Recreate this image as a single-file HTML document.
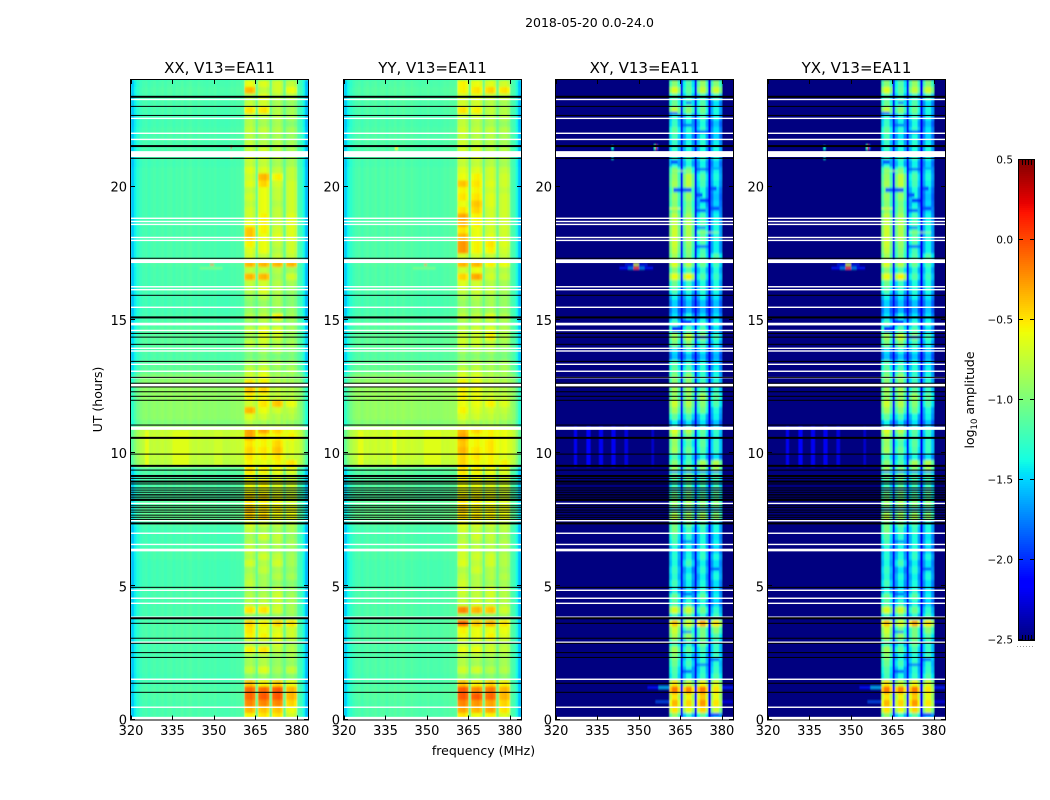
<!DOCTYPE html>
<html>
<head>
<meta charset="utf-8">
<title>2018-05-20 0.0-24.0</title>
<style>
html,body{margin:0;padding:0;background:#fff}
svg{display:block}
text{font-family:"DejaVu Sans","Liberation Sans",sans-serif;fill:#000}
</style>
</head>
<body>
<svg id="chart" xmlns="http://www.w3.org/2000/svg" width="1050" height="800" viewBox="0 0 1050 800">
<defs>
<filter id="soften" x="-2%" y="-2%" width="104%" height="104%"><feGaussianBlur stdDeviation="0.45 1.1"/></filter>
</defs>
<rect x="0" y="0" width="1050" height="800" fill="#fff"/>
<text x="589.5" y="27" font-size="12.5" text-anchor="middle">2018-05-20 0.0-24.0</text>
<text x="483.5" y="755" font-size="12.5" text-anchor="middle">frequency (MHz)</text>
<text transform="translate(102,399.5) rotate(-90)" font-size="12.5" text-anchor="middle">UT (hours)</text>
<text transform="translate(974,400) rotate(-90)" font-size="12.5" text-anchor="middle">log<tspan font-size="8.5" dy="3">10</tspan><tspan dy="-3"> amplitude</tspan></text>
</svg>
<script>
const freqStart = [320];
const freqTicks = [320, 335, 350, 365, 380];
const hourTicks = [0, 5, 10, 15, 20];
const colorbarTicks = [0.5, 0.0, -0.5, -1.0, -1.5, -2.0, -2.5];
const colorRange = [-2.5, 0.5];
const hourRange = [0, 24];
const freqRange = [320, 384];
const rowHours = [0.25];

/* first channel (MHz) of each of the four sub-bands */
const bandStarts = [361, 366, 371, 376];
const bandOffsetsParallel = [-0.04, 0.0, 0.02, -0.06];
const bandOffsetsCross = [-0.14, 0.1, 0.1, -0.2];

/* per-channel offset, 320..383 MHz, relative to the row background */
const parallelProfile = [-0.32,-0.18,-0.08,-0.02,0.02,0.04,0.0,0.03,0.05,0.02,0.04,0.06,0.02,0.05,0.06,0.02,0.05,0.04,0.07,0.03,0.05,0.07,0.04,0.03,0.06,0.04,0.03,0.02,0.04,0.03,0.05,0.02,0.03,0.03,0.02,0.03,0.05,0.04,0.06,0.05,0.08,0.0,0.0,0.0,0.0,0.16,0.0,0.0,0.0,0.0,0.16,0.0,0.0,0.0,0.0,0.16,0.0,0.0,0.0,0.0,0.06,0.0,-0.15,-0.36];
const crossProfile = [0,0,0,0,0,0,0,0,0,0,0,0,0,0,0,0,0,0,0,0,0,0,0,0,0,0,0,0,0,0,0,0,0,0,0,0,0,0,0,0,0,0,0,0,0,0.3,0,0,0,0,0.3,0,0,0,0,0.3,0,0,0,0,0,0,0,0];

/* out-of-band level per quarter-hour row, from 0 h upward */
const xxBackground = [-1.22,-1.22,-1.22,-1.2,-1.2,-1.22,-1.24,-1.22,-1.22,-1.22,-1.22,-1.22,-1.2,-1.2,-1.2,-1.22,-1.22,-1.22,-1.22,-1.22,-1.24,-1.24,-1.24,-1.24,-1.22,-1.22,-1.24,-1.24,-1.24,-1.2,-1.12,-1.14,-1.16,-1.2,-1.2,-1.2,-1.2,-1.18,-0.82,-0.8,-0.78,-0.78,-0.76,-0.78,-1.02,-0.97,-0.97,-0.97,-0.95,-0.95,-0.97,-1.0,-1.14,-1.16,-1.2,-1.18,-1.16,-1.16,-1.18,-1.2,-1.22,-1.24,-1.24,-1.24,-1.22,-1.22,-1.22,-1.22,-1.2,-1.22,-1.22,-1.22,-1.22,-1.22,-1.22,-1.22,-1.22,-1.22,-1.22,-1.22,-1.22,-1.22,-1.22,-1.24,-1.22,-1.22,-1.22,-1.22,-1.22,-1.24,-1.24,-1.22,-1.22,-1.22,-1.2,-1.22];
const yyBackground = [-1.2,-1.2,-1.2,-1.18,-1.18,-1.2,-1.22,-1.2,-1.2,-1.2,-1.2,-1.2,-1.18,-1.18,-1.18,-1.2,-1.2,-1.2,-1.2,-1.2,-1.22,-1.22,-1.22,-1.22,-1.2,-1.2,-1.22,-1.22,-1.22,-1.18,-1.1,-1.12,-1.14,-1.18,-1.18,-1.18,-1.18,-1.16,-0.8,-0.77,-0.75,-0.75,-0.74,-0.75,-1.0,-0.95,-0.95,-0.95,-0.93,-0.93,-0.95,-0.98,-1.12,-1.14,-1.18,-1.16,-1.14,-1.14,-1.16,-1.18,-1.2,-1.22,-1.22,-1.22,-1.2,-1.2,-1.2,-1.2,-1.18,-1.2,-1.2,-1.2,-1.2,-1.2,-1.2,-1.2,-1.2,-1.2,-1.2,-1.2,-1.2,-1.2,-1.2,-1.22,-1.2,-1.2,-1.2,-1.2,-1.2,-1.22,-1.22,-1.2,-1.2,-1.2,-1.18,-1.2];
const xyBackground = [-2.5,-2.5,-2.5,-2.5,-2.5,-2.5,-2.5,-2.5,-2.5,-2.5,-2.5,-2.5,-2.5,-2.5,-2.5,-2.5,-2.5,-2.5,-2.5,-2.5,-2.5,-2.5,-2.5,-2.5,-2.5,-2.5,-2.5,-2.5,-2.5,-2.5,-2.5,-2.5,-2.5,-2.5,-2.5,-2.5,-2.5,-2.5,-2.5,-2.5,-2.5,-2.5,-2.5,-2.5,-2.5,-2.5,-2.5,-2.5,-2.5,-2.5,-2.5,-2.5,-2.5,-2.5,-2.5,-2.5,-2.5,-2.5,-2.5,-2.5,-2.5,-2.5,-2.5,-2.5,-2.5,-2.5,-2.5,-2.5,-2.5,-2.5,-2.5,-2.5,-2.5,-2.5,-2.5,-2.5,-2.5,-2.5,-2.5,-2.5,-2.5,-2.5,-2.5,-2.5,-2.5,-2.5,-2.5,-2.5,-2.5,-2.5,-2.5,-2.5,-2.5,-2.5,-2.5,-2.5];
const yxBackground = xyBackground;

/* level of each sub-band per quarter-hour row, from 0 h upward */
const xxBands = [
[-.55,-.5,-.5,-.7],[-.35,-.4,-.4,-.6],[-.2,-.2,-.2,-.45],[-.1,-.05,-.05,-.35],[-.1,-.1,-.05,-.35],[-.4,-.55,-.45,-.6],
[-.95,-.9,-.95,-.95],[-.75,-.65,-.85,-.75],[-.85,-.8,-.9,-.9],[-.85,-.8,-.9,-.85],[-.55,-.5,-.75,-.8],[-.8,-.8,-.7,-.85],
[-.55,-.55,-.6,-.7],[-.5,-.6,-.65,-.7],[-.45,-.55,-.45,-.5],[-.9,-.9,-.9,-.9],[-.5,-.5,-.7,-.85],[-.8,-.75,-.75,-.85],
[-.8,-.8,-.7,-.85],[-.85,-.85,-.75,-.9],[-.75,-.85,-.9,-.95],[-.8,-.85,-.8,-.85],[-.85,-.75,-.85,-.9],[-.7,-.8,-.7,-.85],
[-.8,-.7,-.75,-.85],[-.75,-.8,-.85,-.9],[-.8,-.85,-.8,-.85],[-.85,-.7,-.75,-.9],[-.75,-.85,-.85,-.85],[-.65,-.7,-.75,-.8],
[-.45,-.45,-.6,-.6],[-.4,-.5,-.55,-.6],[-.5,-.55,-.6,-.7],[-.5,-.5,-.6,-.7],[-.6,-.6,-.7,-.75],[-.6,-.55,-.65,-.7],
[-.6,-.65,-.7,-.75],[-.5,-.55,-.6,-.65],[-.55,-.6,-.55,-.5],[-.5,-.55,-.5,-.7],[-.45,-.5,-.4,-.65],[-.5,-.55,-.45,-.65],
[-.3,-.5,-.55,-.55],[-.3,-.3,-.45,-.6],[-.8,-.85,-.85,-.9],[-.65,-.7,-.8,-.8],[-.35,-.6,-.7,-.75],[-.7,-.5,-.4,-.6],
[-.55,-.6,-.75,-.8],[-.4,-.45,-.75,-.8],[-.5,-.55,-.8,-.85],[-.7,-.6,-.85,-.9],[-.75,-.7,-.9,-.85],[-.85,-.8,-.85,-.9],
[-1,-.95,-1,-1],[-.95,-.85,-.85,-.95],[-.75,-.7,-.8,-.85],[-.85,-.65,-.7,-.9],[-.75,-.6,-.65,-.85],[-.9,-.8,-.85,-.9],
[-.8,-.75,-.55,-.85],[-.9,-.85,-.9,-.9],[-.95,-.9,-.85,-.95],[-.9,-.8,-.85,-.95],[-.8,-.65,-.8,-.9],[-.75,-.7,-.8,-.85],
[-.35,-.35,-.85,-.7],[-.75,-.75,-.8,-.85],[-.35,-.35,-.35,-.35],[-.7,-.75,-.75,-.75],[-.65,-.6,-.8,-.7],[-.55,-.6,-.75,-.7],
[-.4,-.6,-.65,-.65],[-.4,-.55,-.7,-.65],[-.6,-.55,-.75,-.65],[-.7,-.55,-.75,-.65],[-.7,-.6,-.75,-.7],[-.75,-.6,-.8,-.7],
[-.7,-.6,-.75,-.7],[-.75,-.6,-.75,-.7],[-.65,-.45,-.7,-.7],[-.7,-.35,-.55,-.75],[-.65,-.65,-.75,-.75],[-.75,-.75,-.85,-.85],
[-.7,-.7,-.8,-.85],[-.75,-.7,-.8,-.85],[-.75,-.8,-.8,-.85],[-.8,-.85,-.85,-.9],[-.75,-.75,-.8,-.85],[-.8,-.85,-.85,-.95],
[-.8,-.8,-.8,-.85],[-.5,-.5,-.8,-.85],[-.75,-.7,-.85,-.9],[-.8,-.65,-.8,-.8],[-.35,-.75,-.7,-.6],[-.6,-.65,-.7,-.75]
];
const yyBands = [
[-.5,-.6,-.55,-.65],[-.3,-.35,-.3,-.5],[-.2,-.25,-.3,-.45],[-.05,-.05,-.1,-.35],[-.05,-.2,-.15,-.35],[-.4,-.55,-.45,-.55],
[-.9,-.95,-.95,-.95],[-.7,-.7,-.8,-.8],[-.8,-.85,-.9,-.85],[-.8,-.8,-.85,-.85],[-.6,-.6,-.7,-.75],[-.75,-.75,-.75,-.8],
[-.6,-.6,-.55,-.65],[-.55,-.6,-.6,-.6],[-.1,-.4,-.35,-.5],[-.85,-.85,-.9,-.85],[-.2,-.35,-.4,-.7],[-.75,-.7,-.75,-.8],
[-.75,-.75,-.7,-.8],[-.7,-.75,-.7,-.8],[-.7,-.8,-.85,-.85],[-.75,-.8,-.8,-.8],[-.8,-.7,-.8,-.85],[-.65,-.75,-.7,-.8],
[-.7,-.7,-.7,-.8],[-.7,-.75,-.8,-.85],[-.75,-.8,-.8,-.8],[-.8,-.7,-.75,-.85],[-.7,-.75,-.8,-.8],[-.6,-.65,-.7,-.75],
[-.5,-.5,-.55,-.6],[-.45,-.55,-.55,-.6],[-.5,-.55,-.6,-.65],[-.55,-.55,-.6,-.7],[-.6,-.6,-.65,-.7],[-.6,-.6,-.65,-.7],
[-.55,-.6,-.65,-.7],[-.5,-.55,-.6,-.65],[-.45,-.55,-.55,-.55],[-.45,-.5,-.55,-.65],[-.35,-.5,-.5,-.6],[-.4,-.55,-.5,-.6],
[-.3,-.55,-.55,-.6],[-.35,-.45,-.55,-.6],[-.8,-.85,-.85,-.9],[-.65,-.7,-.75,-.8],[-.55,-.65,-.7,-.75],[-.6,-.6,-.55,-.65],
[-.55,-.6,-.7,-.75],[-.55,-.6,-.75,-.8],[-.55,-.6,-.75,-.8],[-.65,-.65,-.8,-.85],[-.75,-.75,-.85,-.85],[-.85,-.8,-.85,-.85],
[-.95,-.95,-.95,-1],[-.85,-.85,-.85,-.95],[-.7,-.7,-.75,-.85],[-.7,-.7,-.55,-.8],[-.75,-.7,-.65,-.8],[-.85,-.8,-.8,-.85],
[-.75,-.75,-.65,-.8],[-.85,-.85,-.85,-.9],[-.9,-.85,-.85,-.9],[-.85,-.8,-.85,-.9],[-.75,-.7,-.75,-.85],[-.65,-.7,-.8,-.85],
[-.45,-.3,-.7,-.75],[-.7,-.6,-.75,-.8],[-.35,-.35,-.55,-.6],[-.7,-.7,-.75,-.75],[-.25,-.55,-.55,-.7],[-.25,-.55,-.5,-.65],
[-.35,-.6,-.65,-.7],[-.5,-.6,-.7,-.7],[-.35,-.55,-.7,-.7],[-.3,-.55,-.7,-.7],[-.5,-.45,-.7,-.7],[-.6,-.4,-.65,-.7],
[-.5,-.5,-.65,-.7],[-.55,-.55,-.7,-.75],[-.4,-.5,-.65,-.7],[-.6,-.55,-.7,-.7],[-.65,-.65,-.7,-.75],[-.75,-.75,-.8,-.85],
[-.7,-.7,-.8,-.8],[-.7,-.7,-.8,-.8],[-.7,-.75,-.8,-.85],[-.75,-.8,-.8,-.85],[-.7,-.75,-.75,-.8],[-.75,-.8,-.85,-.9],
[-.75,-.75,-.8,-.8],[-.5,-.55,-.75,-.8],[-.7,-.7,-.8,-.85],[-.7,-.65,-.75,-.75],[-.55,-.5,-.45,-.5],[-.55,-.6,-.65,-.7]
];
const xyBands = [
[-1,-1.4,-1.2,-1.5],[-.6,-.7,-.55,-.8],[-.45,-.55,-.35,-.6],[-.6,-.65,-.5,-.7],[-.25,-.3,-.25,-.6],[-.6,-.8,-.65,-.75],
[-1.3,-1.45,-1.35,-1.25],[-1.25,-1.45,-1.4,-1.35],[-1.15,-1.3,-1.35,-1.4],[-1.05,-1.45,-1.4,-1.3],[-.95,-1.2,-1.3,-1.35],[-1.25,-1.4,-1.15,-1.35],
[-.9,-1,-1.1,-1.25],[-.8,-1.15,-1.1,-1.05],[-.5,-.75,-.4,-.6],[-1.3,-1.2,-1.4,-1.3],[-.75,-.8,-1.15,-1.4],[-1.25,-1.35,-1.45,-1.6],
[-1.15,-1.45,-1.2,-1.5],[-1.45,-1.55,-1.4,-1.55],[-1.3,-1.5,-1.45,-1.55],[-1.4,-1.45,-1.5,-1.45],[-1.35,-1.55,-1.4,-1.5],[-1.45,-1.3,-1.5,-1.55],
[-1.4,-1.45,-1.35,-1.45],[-1.45,-1.5,-1.4,-1.6],[-1.3,-1.45,-1.45,-1.5],[-1.25,-1.4,-1.45,-1.55],[-1.1,-1.3,-1.35,-1.45],[-1.1,-1.15,-1.25,-1.45],
[-.85,-.95,-.9,-1],[-1.05,-1,-1.1,-1.15],[-1,-.95,-1.05,-1.05],[-1.15,-1.15,-1.25,-1.25],[-1.15,-1.05,-1.25,-1.15],[-1.35,-1.25,-1.3,-1.35],
[-1.15,-1.1,-1.25,-1.25],[-.95,-1.05,-1.05,-.95],[-1.05,-1.25,-.95,-.9],[-1.25,-1.35,-1.45,-1.55],[-.95,-1.15,-1.25,-1.35],[-1,-1.25,-1.2,-1.35],
[-.9,-1.1,-1.25,-1.4],[-.75,-.9,-1.2,-1.35],[-1.5,-1.55,-1.55,-1.65],[-1.2,-1.3,-1.45,-1.5],[-.95,-1.05,-1.15,-1.45],[-.8,-.9,-1.05,-1.25],
[-1,-1,-.95,-1.2],[-.95,-.95,-1.2,-1.35],[-1.05,-1.05,-1.3,-1.4],[-1.05,-1,-1.35,-1.45],[-1.2,-1.25,-1.4,-1.5],[-1.25,-1.35,-1.45,-1.55],
[-1.65,-1.65,-1.65,-1.7],[-1.55,-1.45,-1.5,-1.6],[-1.1,-1.05,-1.3,-1.45],[-.95,-.8,-.95,-1.3],[-1.15,-1.25,-1.25,-1.55],[-1.3,-1.35,-1.4,-1.45],
[-1.55,-1.45,-1.55,-1.55],[-1.65,-1.7,-1.7,-1.65],[-1.6,-1.65,-1.65,-1.65],[-1.5,-1.55,-1.5,-1.55],[-1.25,-1.4,-1.4,-1.45],[-1.15,-1.35,-1.45,-1.45],
[-.7,-.65,-1.25,-1.35],[-1.05,-1.25,-1.4,-1.45],[-.75,-.9,-1.15,-1.3],[-.95,-1.1,-1.25,-1.25],[-.85,-1.05,-1.3,-1.5],[-.8,-1,-1.25,-1.5],
[-.8,-.9,-1.2,-1.45],[-.8,-.9,-1.2,-1.45],[-.85,-.9,-1.25,-1.45],[-.85,-.95,-1.3,-1.5],[-1,-1.05,-1.4,-1.55],[-1.05,-1.1,-1.5,-1.6],
[-1,-1,-1.45,-1.65],[-1.1,-1.05,-1.45,-1.6],[-.95,-.85,-1.3,-1.5],[-1,-.85,-1.25,-1.45],[-1.1,-1.15,-1.4,-1.5],[-1.45,-1.45,-1.5,-1.6],
[-1.35,-1.3,-1.35,-1.45],[-1.35,-1.45,-1.45,-1.45],[-1.35,-1.45,-1.4,-1.5],[-1.3,-1.55,-1.45,-1.6],[-1.2,-1.4,-1.35,-1.55],[-1.35,-1.5,-1.45,-1.65],
[-1.4,-1.45,-1.35,-1.5],[-.85,-1.05,-1.15,-1.45],[-1.15,-1.25,-1.25,-1.55],[-1.25,-1.35,-1.35,-1.35],[-.75,-1.2,-.85,-.8],[-1.05,-1.25,-1,-1.05]
];
const yxBands = xyBands;

/* isolated features: start hour, end hour, start MHz, end MHz, level */
const xxSpots = [[9.5,10.85,325,326.5,-.62],[9.5,10.85,335,341,-.64],[9.5,10.85,350,353,-.7],[17.03,17.1,348.6,350,-0.05],[16.9,16.97,348,350.2,0.2],[21.42,21.55,356,356.6,0.3],[21.07,21.12,356,356.6,0.1],[16.9,16.97,345,353,-0.95]];
const yySpots = [[9.5,10.85,325,327,-.62],[9.5,10.85,337.5,339,-.6],[9.5,10.85,349,355,-.64],[17.03,17.1,349,350,-0.1],[16.9,16.97,348.5,350,0.15],[21.38,21.5,338.5,339.5,-0.6],[16.9,16.97,345,353,-0.95]];
const xySpots = [
[9.5,11,326.5,327.5,-2.2],[9.5,11,331,332.5,-2.15],[9.5,11,335.5,337,-2.2],[9.5,11,340,341.5,-2.2],[9.5,11,344.8,346,-2.25],[9.5,11,354.6,355.4,-2.3],
[16.9,16.98,343,355,-2.1],[16.9,16.98,346,352,-1.75],[16.9,16.98,348,350,0.0],[17.03,17.1,345,353,-2.05],[17.03,17.1,348,350,-0.6],
[21.4,21.56,355.5,356,-1.3],[21.4,21.56,356,356.6,0.3],[21.4,21.56,356.6,357,-1.9],[21.4,21.5,340,340.8,-1.4],[21.04,21.1,340,340.8,-1.5],
[1.17,1.24,353,361,-2.1],[1.17,1.24,357,361,-1.6],[1.17,1.24,380,384,-2.05],[.64,.7,356,361,-1.9],[.64,.7,380,384,-2.1],
[19.8,19.95,362.5,365,-1.9],[19.8,19.95,366,369,-1.9],[19.6,19.75,371,373,-1.9],[19.4,19.55,372,375,-2],[19.85,20,376,378,-1.9],[19.1,19.25,376,379,-1.9],
[20.85,21,361.5,364,-1.9],[20.6,20.7,371,375,-1.9],[20.65,20.72,376,379,-1.7],[18.4,18.5,371,374,-1.75],[17.7,17.8,371,375,-1.8],[19.05,19.15,371,374,-1.9],
[22.7,22.8,361,364,-1.9],[22.25,22.35,366,369,-1.85],[22,22.1,371,375,-1.9],[23.1,23.2,367,369,-1.8],[14.55,14.75,362,365,-2],[14.8,15,366,369,-2],
[14.3,14.4,371,375,-1.9],[5.6,5.7,376,379,-1.9],[4.65,4.75,366,369,-1.9],[6.65,6.72,366,369,-1.9],[3.25,3.32,366,369,-1.8],[2,2.1,371,375,-1.8],
[1.75,1.85,366,369,-1.9],[2.2,2.3,376,379,-1.85],[.1,.25,376,379,-1.9],[7.85,7.92,361,380,-1.8],[8.6,8.66,361,380,-1.85],[9.25,9.32,361,380,-1.8],
[19.15,19.2,361,365,-.55],[20.56,20.6,362,369,-.8],[18.26,18.3,371,379,-.85]
];
const yxSpots = xySpots;

/* flagged-time marks, in hours */
const blackLineHours = [23.01,22.67,21.06,17.31,15.92,14.49,14.35,14.08,13.44,12.84,12.62,12.48,12.3,12.13,11.98,11.05,9.96,9.36,9.05,8.84,8.69,8.61,8.53,8.45,8.39,8.32,8.02,7.95,7.86,7.78,7.67,7.59,7.51,4.96,3.61,3.05,2.86,2.51,2.33,1.36,1.02];
const thickBlackHours = [23.37,21.52,15.09,10.57,9.52,9.14,8.93,8.24,7.36,3.8];
const whiteLineHours = [23.27,22.56,22.0,21.77,18.81,18.69,18.58,18.09,17.98,16.24,16.13,15.47,14.6,13.93,13.83,13.33,13.07,12.83,8.11,7.46,6.99,6.57,4.85,4.55,4.36,3.84,2.9,1.51,0.46];
const whiteGaps = [[21.11,21.33],[17.13,17.27],[14.79,14.89],[12.5,12.6],[10.87,10.99],[6.31,6.41],[0,0.1]];

const panelTitles = ["XX, V13=EA11", "YY, V13=EA11", "XY, V13=EA11", "YX, V13=EA11"];
const panelKeys = ["xx", "yy", "xy", "yx"];

const svgNS = "http://www.w3.org/2000/svg";
const svg = document.getElementById("chart");
const plotLefts = [131, 344, 556, 768];
const plotWidth = 177, plotTop = 80, plotBottom = 719.5;

function el(parent, tag, attrs) {
  const e = document.createElementNS(svgNS, tag);
  for (const k in attrs) e.setAttribute(k, attrs[k]);
  parent.appendChild(e);
  return e;
}
function yScale(h) { return plotBottom - (h - hourRange[0]) / (hourRange[1] - hourRange[0]) * (plotBottom - plotTop); }
function xScale(left, f) { return left + (f - freqRange[0]) / (freqRange[1] - freqRange[0]) * plotWidth; }
function interp(stops, x) {
  for (let i = 1; i < stops.length; i++) {
    if (x <= stops[i][0]) {
      const a = stops[i - 1], b = stops[i];
      return a[1] + (b[1] - a[1]) * (x - a[0]) / (b[0] - a[0]);
    }
  }
  return stops[stops.length - 1][1];
}
const jetR = [[0,0],[.35,0],[.66,1],[.89,1],[1,.5]];
const jetG = [[0,0],[.125,0],[.375,1],[.64,1],[.91,0],[1,0]];
const jetB = [[0,.5],[.11,1],[.34,1],[.65,0],[1,0]];
function colorOf(v) {
  const n = Math.max(0, Math.min(1, (v - colorRange[0]) / (colorRange[1] - colorRange[0])));
  const c = s => Math.round(255 * interp(s, n));
  return "rgb(" + c(jetR) + "," + c(jetG) + "," + c(jetB) + ")";
}
const panelData = {
  xx: { bands: xxBands, bg: xxBackground, profile: parallelProfile, shape: bandOffsetsParallel, spots: xxSpots },
  yy: { bands: yyBands, bg: yyBackground, profile: parallelProfile, shape: bandOffsetsParallel, spots: yySpots },
  xy: { bands: xyBands, bg: xyBackground, profile: crossProfile, shape: bandOffsetsCross, spots: xySpots },
  yx: { bands: yxBands, bg: yxBackground, profile: crossProfile, shape: bandOffsetsCross, spots: yxSpots }
};
function cellValue(d, row, chan) {
  const f = freqStart[0] + chan;
  for (let b = 0; b < bandStarts.length; b++) {
    const off = f - bandStarts[b];
    if (off >= 0 && off < d.shape.length) return d.bands[row][b] + d.shape[off];
  }
  return d.bg[row] + d.profile[chan];
}

panelKeys.forEach(function (key, p) {
  const left = plotLefts[p], d = panelData[key];
  const panel = el(svg, "g", {});
  
  

  const clipId = "clip-" + key;
  const clipHolder = el(panel, "clipPath", { id: clipId });
  el(clipHolder, "rect", { x: left, y: plotTop, width: plotWidth, height: plotBottom - plotTop });

  const clipGroup = el(panel, "g", { "clip-path": "url(#" + clipId + ")" });
  
  

  const under = el(clipGroup, "rect", { x: left, y: plotTop, width: plotWidth, height: plotBottom - plotTop, fill: key === "xx" || key === "yy" ? colorOf(-1.25) : colorOf(-2.5) });
  
  

  const cells = el(clipGroup, "g", { filter: "url(#soften)", "shape-rendering": "crispEdges" });
  
  

  d.bands.forEach(function (rowVals, row) {
    const h0 = row * rowHours[0], h1 = (row + 1) * rowHours[0];
    const y = yScale(h1), hgt = yScale(h0) - y;
    d.profile.forEach(function (_, chan) {
      const f = freqStart[0] + chan;
      const x0 = xScale(left, f), x1 = xScale(left, f + 1);
      const c = el(cells, "rect", { x: x0.toFixed(2), y: y.toFixed(2), width: (x1 - x0 + 0.4).toFixed(2), height: (hgt + 0.4).toFixed(2), fill: colorOf(cellValue(d, row, chan)) });
      
      
    });
  });

  d.spots.forEach(function (s) {
    const x0 = xScale(left, s[2]), x1 = xScale(left, s[3]);
    const y0 = yScale(s[1]), y1 = yScale(s[0]);
    const r = el(cells, "rect", { x: x0.toFixed(2), y: y0.toFixed(2), width: (x1 - x0).toFixed(2), height: Math.max(1, y1 - y0).toFixed(2), fill: colorOf(s[4]) });
    
    
  });

  whiteGaps.forEach(function (g) {
    const y0 = yScale(g[1]), y1 = yScale(g[0]);
    const r = el(clipGroup, "rect", { x: left, y: y0.toFixed(2), width: plotWidth, height: (y1 - y0).toFixed(2), fill: "#fff" });
    
    
  });
  whiteLineHours.forEach(function (h) {
    const r = el(clipGroup, "rect", { x: left, y: (yScale(h) - 0.7).toFixed(2), width: plotWidth, height: 1.4, fill: "#fff" });
    
    
  });
  blackLineHours.forEach(function (h) {
    const r = el(clipGroup, "rect", { x: left, y: (yScale(h) - 0.5).toFixed(2), width: plotWidth, height: 1, fill: "#000" });
    
    
  });
  thickBlackHours.forEach(function (h) {
    const r = el(clipGroup, "rect", { x: left, y: (yScale(h) - 1).toFixed(2), width: plotWidth, height: 2, fill: "#000" });
    
    
  });

  const frame = el(panel, "rect", { x: left - 0.5, y: plotTop - 0.5, width: plotWidth + 1, height: plotBottom - plotTop + 1, fill: "none", stroke: "#000", "stroke-width": 1 });
  
  

  freqTicks.forEach(function (f) {
    const x = Math.round(xScale(left, f)) + 0.5;
    [[plotBottom, plotBottom - 4], [plotTop, plotTop + 4]].forEach(function (e) {
      const t = el(panel, "line", { x1: x, x2: x, y1: e[0], y2: e[1], stroke: "#000", "stroke-width": 1 });
      
      
    });
    const lab = el(panel, "text", { x: xScale(left, f), y: 735, "font-size": 13, "text-anchor": "middle" });
    
    
    lab.textContent = String(f);
  });
  hourTicks.forEach(function (h) {
    const y = Math.round(yScale(h)) - 0.5;
    [[left, left + 4], [left + plotWidth, left + plotWidth - 4]].forEach(function (e) {
      const t = el(panel, "line", { x1: e[0], x2: e[1], y1: y, y2: y, stroke: "#000", "stroke-width": 1 });
      
      
    });
    const lab = el(panel, "text", { x: left - 4, y: yScale(h) + 5, "font-size": 13, "text-anchor": "end" });
    
    
    lab.textContent = String(h);
  });

  const title = el(panel, "text", { x: left + plotWidth / 2, y: 73, "font-size": 15, "text-anchor": "middle" });
  
  
  title.textContent = panelTitles[p];
});

/* colorbar */
const cb = el(svg, "g", {});


const cbLeft = 1019, cbWidth = 15, cbTop = 160, cbBottom = 640;
function cbY(v) { return cbBottom - (v - colorRange[0]) / (colorRange[1] - colorRange[0]) * (cbBottom - cbTop); }
const cbStrip = el(cb, "g", { "shape-rendering": "crispEdges" });


for (let py = cbTop; py < cbBottom; py += 2) {
  const v = colorRange[1] - (py + 1 - cbTop) / (cbBottom - cbTop) * (colorRange[1] - colorRange[0]);
  const r = el(cbStrip, "rect", { x: cbLeft, y: py, width: cbWidth, height: 2.2, fill: colorOf(v) });
  
  
}
const cbFrame = el(cb, "rect", { x: cbLeft - 0.5, y: cbTop - 0.5, width: cbWidth + 1, height: cbBottom - cbTop + 1, fill: "none", stroke: "#000", "stroke-width": 1 });


colorbarTicks.forEach(function (v) {
  const y = Math.round(cbY(v)) - 0.5;
  [[cbLeft, cbLeft + 4], [cbLeft + cbWidth, cbLeft + cbWidth - 4]].forEach(function (e) {
    const t = el(cb, "line", { x1: e[0], x2: e[1], y1: y, y2: y, stroke: "#000", "stroke-width": 1 });
    
    
  });
  const lab = el(cb, "text", { x: cbLeft - 6, y: cbY(v) + 3.5, "font-size": 10.5, "text-anchor": "end" });
  
  
  lab.textContent = v.toFixed(1).replace("-", "\u2212");
});
for (let i = 1; i < 5; i++) {
  const x = cbLeft + i * 3 + 0.5;
  [[cbTop, cbTop + 5], [cbBottom, cbBottom - 5]].forEach(function (e) {
    const t = el(cb, "line", { x1: x, x2: x, y1: e[0], y2: e[1], stroke: "#000", "stroke-width": 1 });
    
    
  });
}
const cbDots = el(cb, "line", { x1: 1017, x2: 1035, y1: 646.5, y2: 646.5, stroke: "#999", "stroke-width": 1, "stroke-dasharray": "1 2" });


</script>
</body>
</html>
